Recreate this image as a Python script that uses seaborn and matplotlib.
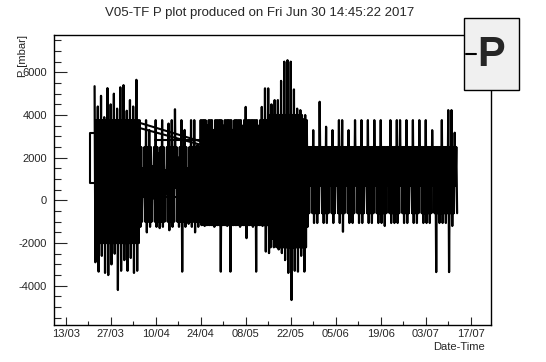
import matplotlib
matplotlib.use("Agg")
import matplotlib.pyplot as plt
from matplotlib.patches import Rectangle
from matplotlib.lines import Line2D
from matplotlib.ticker import MultipleLocator
import seaborn as sns
import pandas as pd

# daily max / min of P [mbar], from 22/03 to 12/07
first_day = "2017-03-22"
p_high = [5350, 4400, 4900, 3900, 5260, 4500, 5000, 4300, 5300, 5400, 4200, 4700, 4400, 5650,
          3760, 1500, 3760, 3300, 1600, 3760, 2200, 3760, 1400, 3600, 3760, 4270, 2000, 3760,
          3300, 1500, 3760, 3760, 2600,
          3760, 3760, 3500, 3760, 3300, 3760, 3760, 3500, 3760, 3760, 3300, 3760, 3760, 3500,
          4380, 3760, 3760, 3760, 3500, 4380, 5250,
          5250, 4500, 4700, 4700, 5600, 6500, 6570, 6500, 5200, 4300, 4230, 3800,
          3760, 2500, 3290, 2500, 4620, 2500, 3450, 2500, 3290, 2500, 3760, 3760, 2500, 3290,
          2500, 3760, 2500, 3760, 2500, 3760, 2500, 3760, 2500, 3760, 2500, 2500, 3760, 2500,
          3760, 3760, 2500, 3760, 2500, 3760, 2500, 3760, 2500, 3760, 2500, 3290, 2500, 2500,
          3760, 2500, 4230, 4230, 3170]
p_low = [-2900, -3340, -2600, -3400, -3500, -3000, -2500, -4200, -3300, -2800, -3300, -2700, -3400, -3300,
         -1240, 200, -1500, -1240, 100, -1240, -1300, -1240, 300, -1400, -1240, 600, -1240, -3340,
         -1240, -1100, -1240, -1500, -1240,
         -1160, -1200, -1160, -1160, -1240, -1160, -3340, -1160, -1200, -3340, -1160, -1160, -1240, -1160,
         -1770, -1160, -1240, -3340, -1160, -1200, -2400,
         -2470, -1800, -2170, -2300, -2470, -2800, -3400, -4670, -3300, -3340, -2600, -3340,
         -1240, 700, -1060, -1060, 700, -1060, -1060, 700, -1060, 700, -1060, -1470, 700, -1060,
         -1060, 700, -1060, -1060, 700, -1060, -1060, 700, -1060, -1060, -1200, 700, -1060, -1060,
         -1060, 700, -1060, -1060, 700, -1060, -1060, 700, -1060, -1060, -1060, 700, -3360, -1060,
         -1060, -1060, -3360, -1200, 700]

# dense core band of the signal, by period
core_start = ["2017-03-22", "2017-04-05", "2017-04-24", "2017-05-15", "2017-05-27"]
core_top = [3760, 2500, 3760, 4000, 2500]
core_bottom = [-2000, -1000, -1160, -2200, -600]

# points stored out of time order: ROOT joins them with long lines
ret_dates = [["2017-03-21 19:00", "2017-03-20 13:00", "2017-03-20 13:00", "2017-03-21 19:00"],
             ["2017-04-03 14:00", "2017-04-27 19:00"],
             ["2017-04-03 14:00", "2017-04-27 19:00"],
             ["2017-04-09 19:00", "2017-05-15 00:00"],
             ["2017-04-03 14:00", "2017-04-17 14:00"],
             ["2017-04-03 14:00", "2017-04-20 00:00"],
             ["2017-05-27 10:00", "2017-06-13 05:00"],
             ["2017-05-27 10:00", "2017-06-20 00:00"],
             ["2017-05-27 10:00", "2017-07-07 00:00"],
             ["2017-06-06 07:00", "2017-07-07 12:00"]]
ret_vals = [[3170, 3170, 820, 820],
            [3700, 2590],
            [3450, 2450],
            [2820, 2820],
            [720, 720],
            [170, 170],
            [2280, 2280],
            [1980, 1980],
            [1510, 1510],
            [1510, 1030]]

tick_labels = ["13/03", "27/03", "10/04", "24/04", "08/05", "22/05", "05/06", "19/06", "03/07", "17/07"]

days = pd.date_range(first_day, periods=len(p_high), freq="D")
starts = pd.to_datetime(core_start)
times, vals = [], []
for d, hi, lo in zip(days, p_high, p_low):
    k = (starts <= d).sum() - 1
    h = pd.Timedelta(hours=6)
    times += [d, d + h, d + 2 * h, d + 3 * h]
    vals += [hi, lo, core_top[k], core_bottom[k]]
df = pd.DataFrame({"time": times, "P": vals})

rows = []
for k, (ds, vs) in enumerate(zip(ret_dates, ret_vals)):
    for d, v in zip(ds, vs):
        rows.append({"seg": k, "time": pd.Timestamp(d), "P": v})
ret_df = pd.DataFrame(rows)

sns.set_style("white")
plt.rcParams["font.family"] = ["Liberation Sans", "DejaVu Sans"]
plt.rcParams["axes.unicode_minus"] = False

fig = plt.figure(figsize=(5.46, 3.62), dpi=100)
ax = fig.add_axes([54 / 546, 1 - 325 / 362, 437 / 546, 290 / 362])

sns.lineplot(data=df, x="time", y="P", sort=False, estimator=None, color="black", lw=1.6, ax=ax)
sns.lineplot(data=ret_df, x="time", y="P", units="seg", sort=False, estimator=None,
             color="black", lw=1.5, ax=ax)

major = pd.date_range("2017-03-13", periods=len(tick_labels), freq="14D")
ax.set_xticks(major)
ax.set_xticklabels(tick_labels)
ax.set_xticks(pd.date_range("2017-03-20", periods=9, freq="14D"), minor=True)
ax.yaxis.set_major_locator(MultipleLocator(2000))
ax.yaxis.set_minor_locator(MultipleLocator(500))

ax.set_xlim(pd.Timestamp("2017-03-09 09:00"), pd.Timestamp("2017-07-23 07:00"))
ax.set_ylim(-5840, 7750)

ax.tick_params(axis="y", which="major", direction="in", length=9, width=0.8, labelsize=8, pad=5,
               left=True, right=False)
ax.tick_params(axis="y", which="minor", direction="in", length=5, width=0.8, left=True, right=False)
ax.tick_params(axis="x", which="major", direction="in", length=6, width=0.8, labelsize=8, pad=3,
               bottom=True, top=False)
ax.tick_params(axis="x", which="minor", direction="in", length=3, width=0.8, bottom=True, top=False)
for s in ax.spines.values():
    s.set_linewidth(1.0)
    s.set_color("black")
ax.set_xlabel("")
ax.set_ylabel("")

fig.text(485 / 546, 1 - 347 / 362, "Date-Time", ha="right", va="center", fontsize=8)
fig.text(23 / 546, 1 - 35 / 362, "P [mbar]", ha="center", va="top", rotation=90, fontsize=8)
fig.text(259.5 / 546, 1 - 12.7 / 362, "V05-TF P plot produced on Fri Jun 30 14:45:22 2017",
         ha="center", va="center", fontsize=9.5)

# legend box
fig.patches.append(Rectangle((464.3 / 546, 1 - 90 / 362), 54.4 / 546, 71.7 / 362,
                             transform=fig.transFigure, facecolor="#f0f0f0", edgecolor="black",
                             lw=1.0, zorder=5))
fig.lines.append(Line2D([466 / 546, 476 / 546], [1 - 53.5 / 362, 1 - 53.5 / 362],
                        transform=fig.transFigure, color="black", lw=1.5, zorder=6))
fig.text(490.7 / 546, 1 - 55 / 362, "P", ha="center", va="center", fontsize=30,
         fontweight="bold", zorder=7)

fig.savefig("out.png", dpi=100)
